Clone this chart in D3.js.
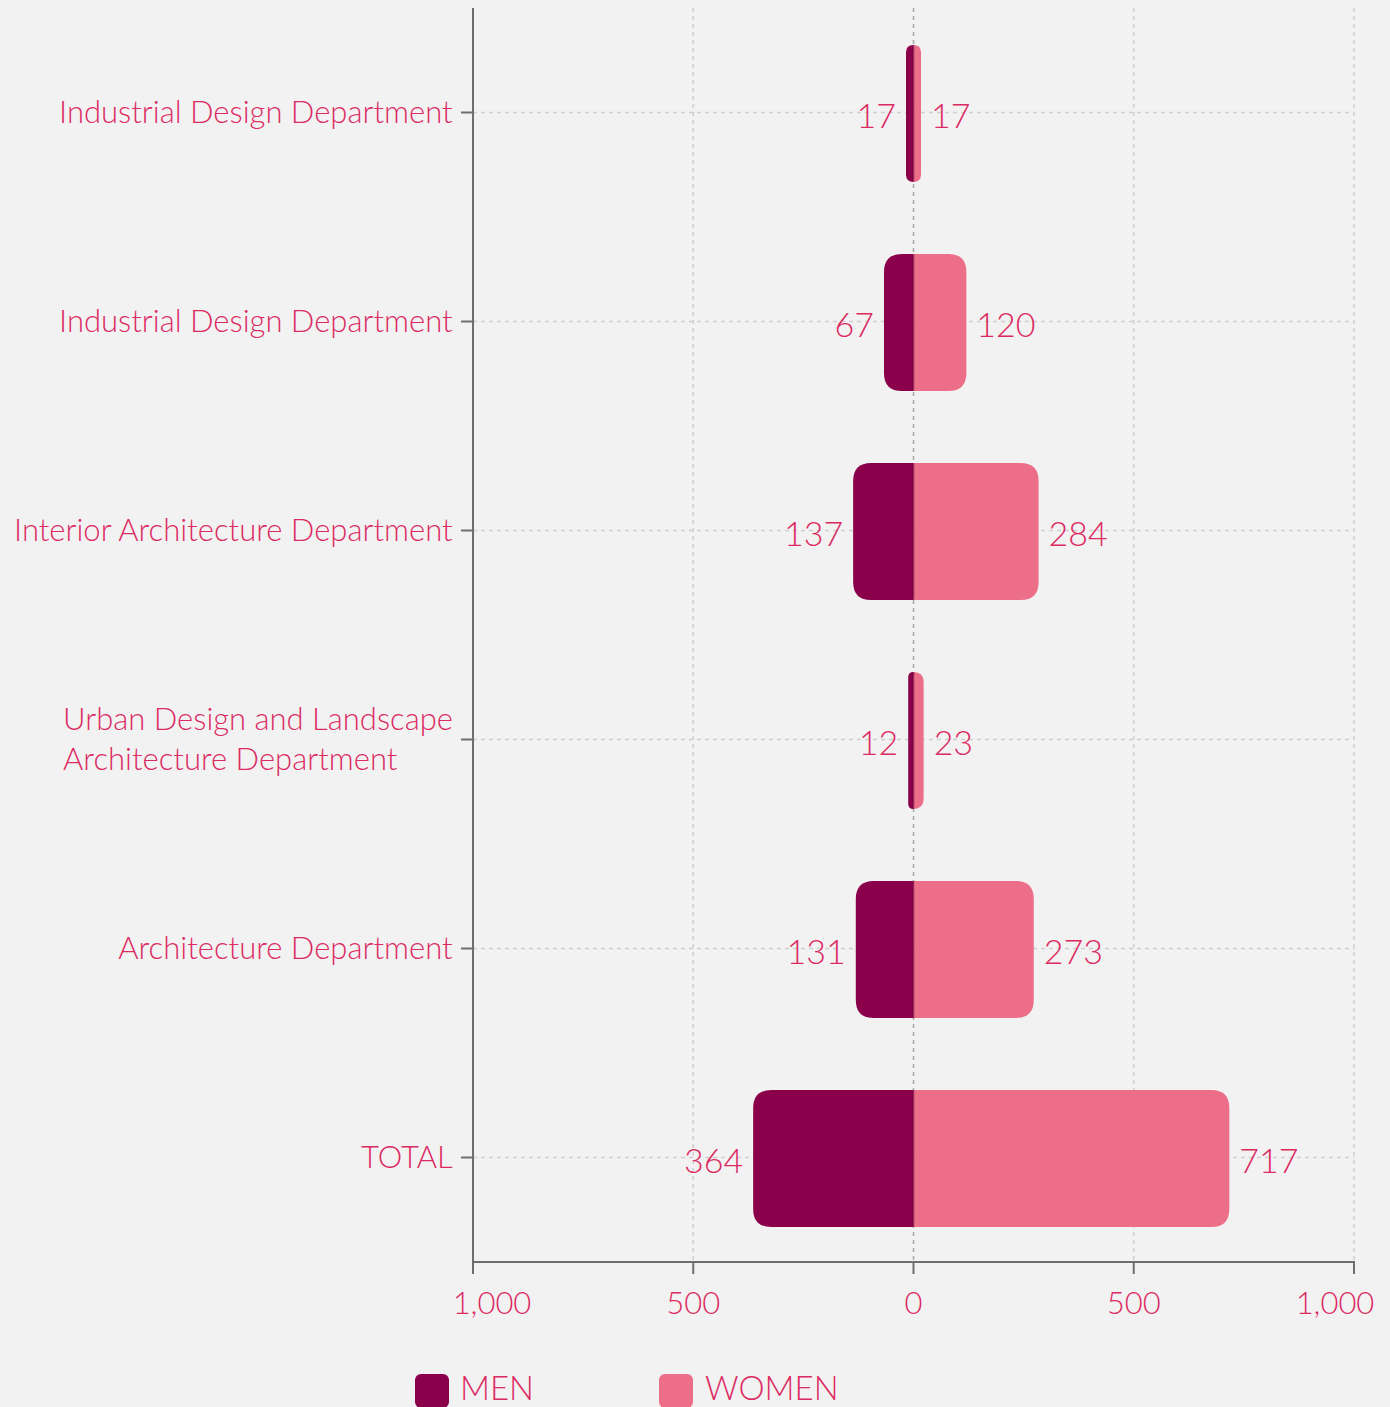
<!DOCTYPE html>
<html><head><meta charset="utf-8">
<script src="https://cdn.jsdelivr.net/npm/d3@7"></script>
<style>
html,body{margin:0;padding:0;background:#f2f2f2;}
svg text{font-family:Lato,"Open Sans",sans-serif;font-weight:300;}
</style></head>
<body>
<svg id="chart" width="1390" height="1407"></svg>
<script>
const categories = ["Industrial Design Department","Industrial Design Department","Interior Architecture Department","Urban Design and Landscape|Architecture Department","Architecture Department","TOTAL"];
const men = [17,67,137,12,131,364];
const women = [17,120,284,23,273,717];
const xTicks = [-1000,-500,0,500,1000];
const legendLabels = ["MEN","WOMEN"];

const colMen = "#8a004b", colWomen = "#ec6e88", colText = "#dc2a62";
const svg = d3.select("#chart");
svg.append("rect").attr("width",1390).attr("height",1407).attr("fill","#f2f2f2");
const L = 473, R = 1354, T = 8, B = 1262;
const x = d3.scaleLinear().domain([-1000,1000]).range([L,R]);
const y = d3.scaleBand().domain(d3.range(categories.length)).range([T,B]).paddingInner(0.345).paddingOuter(0.1725);
const g = svg.append("g");

// grid
g.selectAll(".vg").data(xTicks).join("line")
 .attr("x1",d=>x(d)).attr("x2",d=>x(d)).attr("y1",T).attr("y2",B)
 .attr("stroke",d=>d===0?"#a8a8a8":"#cfcfcf").attr("stroke-width",1.5).attr("stroke-dasharray","4,4");
g.selectAll(".hg").data(d3.range(categories.length)).join("line")
 .attr("x1",L).attr("x2",R).attr("y1",d=>y(d)+y.bandwidth()/2).attr("y2",d=>y(d)+y.bandwidth()/2)
 .attr("stroke","#cfcfcf").attr("stroke-width",1.5).attr("stroke-dasharray","4,4");

function barPath(x0,x1,y0,h,side){
  const w = Math.abs(x1-x0);
  const r = Math.min(18,w,h/2);
  if(side>0){
    return `M${x0},${y0} H${x1-r} Q${x1},${y0} ${x1},${y0+r} V${y0+h-r} Q${x1},${y0+h} ${x1-r},${y0+h} H${x0} Z`;
  } else {
    return `M${x1},${y0} H${x0+r} Q${x0},${y0} ${x0},${y0+r} V${y0+h-r} Q${x0},${y0+h} ${x0+r},${y0+h} H${x1} Z`;
  }
}
const idx = d3.range(categories.length);
g.selectAll(".men").data(idx).join("path")
 .attr("d",i=>barPath(x(-men[i]),x(0),y(i)+1,y.bandwidth(),-1)).attr("fill",colMen);
g.selectAll(".women").data(idx).join("path")
 .attr("d",i=>barPath(x(0),x(women[i]),y(i)+1,y.bandwidth(),1)).attr("fill",colWomen);
g.selectAll(".mid").data(idx).join("line")
 .attr("x1",x(0)).attr("x2",x(0)).attr("y1",i=>y(i)+1).attr("y2",i=>y(i)+1+y.bandwidth())
 .attr("stroke","#6d003a").attr("stroke-width",1.5).attr("opacity",0.6);

// value labels
g.selectAll(".ml").data(idx).join("text")
 .attr("x",i=>x(-men[i])-10).attr("y",i=>y(i)+y.bandwidth()/2+4).attr("dy","0.35em")
 .attr("text-anchor","end").attr("fill",colText).attr("font-size",34).text(i=>men[i]);
g.selectAll(".wl").data(idx).join("text")
 .attr("x",i=>x(women[i])+10).attr("y",i=>y(i)+y.bandwidth()/2+4).attr("dy","0.35em")
 .attr("text-anchor","start").attr("fill",colText).attr("font-size",34).text(i=>women[i]);

// axes
const ax = g.append("g");
ax.append("line").attr("x1",L).attr("x2",L).attr("y1",T).attr("y2",B).attr("stroke","#6e6e6e").attr("stroke-width",2);
ax.append("line").attr("x1",L).attr("x2",R+1).attr("y1",B).attr("y2",B).attr("stroke","#6e6e6e").attr("stroke-width",2);
ax.selectAll(".xt").data(xTicks).join("line")
 .attr("x1",d=>x(d)).attr("x2",d=>x(d)).attr("y1",B).attr("y2",B+12).attr("stroke","#6e6e6e").attr("stroke-width",2);
ax.selectAll(".xl").data(xTicks).join("text")
 .attr("x",d=>x(d) + (d===-1000?19:d===1000?-19:0)).attr("y",B+41).attr("dy","0.35em").attr("text-anchor","middle")
 .attr("fill",colText).attr("font-size",31).text(d=>d3.format(",")(Math.abs(d)));
ax.selectAll(".yt").data(idx).join("line")
 .attr("x1",L-12).attr("x2",L).attr("y1",i=>y(i)+y.bandwidth()/2).attr("y2",i=>y(i)+y.bandwidth()/2)
 .attr("stroke","#6e6e6e").attr("stroke-width",2);

// category labels
idx.forEach(i=>{
  const lines = categories[i].split("|");
  const cy = y(i)+y.bandwidth()/2;
  const t = ax.append("text").attr("fill",colText).attr("font-size",31);
  const lh = 40;
  lines.forEach((ln,k)=>{
    t.append("tspan").attr("x",0).attr("y",cy - (lines.length-1)*lh/2 + k*lh).attr("dy","0.35em").text(ln);
  });
  const w = t.node().getBBox().width;
  t.attr("transform",`translate(${L-20-w},0)`);
});

// legend
const lg = svg.append("g");
[[colMen,415,460],[colWomen,659,705]].forEach((c,k)=>{
  lg.append("rect").attr("x",c[1]).attr("y",1374).attr("width",34).attr("height",34).attr("rx",6).attr("fill",c[0]);
  lg.append("text").attr("x",c[2]).attr("y",1400).attr("fill",colText).attr("font-size",33).text(legendLabels[k]);
});
</script>
</body></html>
